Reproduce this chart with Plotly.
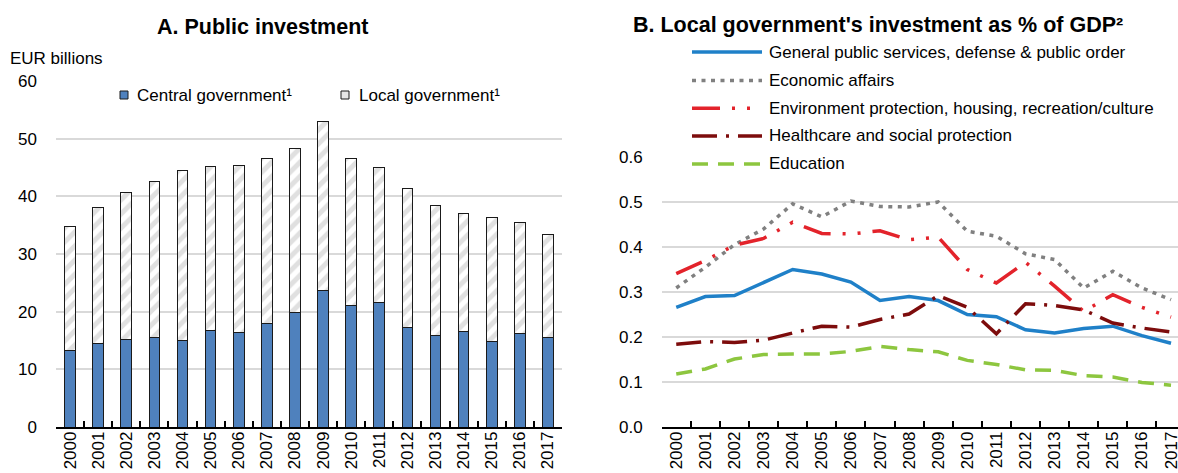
import plotly.graph_objects as go

# ---- data ---------------------------------------------------------------
years = [str(y) for y in range(2000, 2018)]

# Panel A: public investment, EUR billions
central_gov = [13.3, 14.5, 15.2, 15.5, 15.0, 16.7, 16.4, 18.0, 19.8,
               23.6, 21.1, 21.6, 17.3, 15.8, 16.6, 14.8, 16.2, 15.5]
local_gov = [21.5, 23.5, 25.4, 27.1, 29.5, 28.5, 29.0, 28.5, 28.5,
             29.4, 25.4, 23.4, 24.1, 22.6, 20.4, 21.5, 19.2, 17.9]

# Panel B: local government investment by function, % of GDP
general_services = [0.266, 0.290, 0.292, 0.320, 0.350, 0.340, 0.322, 0.281, 0.290,
                    0.281, 0.250, 0.245, 0.216, 0.209, 0.219, 0.224, 0.203, 0.186]
economic_affairs = [0.309, 0.355, 0.405, 0.440, 0.496, 0.467, 0.502, 0.490, 0.489,
                    0.500, 0.435, 0.424, 0.385, 0.372, 0.309, 0.346, 0.309, 0.283]
environment = [0.341, 0.370, 0.404, 0.419, 0.455, 0.430, 0.429, 0.436, 0.416,
               0.422, 0.350, 0.320, 0.366, 0.313, 0.257, 0.294, 0.266, 0.244]
healthcare = [0.184, 0.190, 0.188, 0.193, 0.209, 0.224, 0.222, 0.239, 0.251,
              0.292, 0.266, 0.207, 0.274, 0.270, 0.260, 0.231, 0.220, 0.211]
education = [0.118, 0.129, 0.151, 0.161, 0.162, 0.162, 0.168, 0.179, 0.172,
             0.167, 0.148, 0.139, 0.127, 0.126, 0.114, 0.111, 0.099, 0.093]

bar_names = ["Central government¹", "Local government¹"]
line_names = ["General public services, defense & public order",
              "Economic affairs",
              "Environment protection, housing, recreation/culture",
              "Healthcare and social protection",
              "Education"]

# ---- styling ------------------------------------------------------------
W, H = 1178, 473
FONT = "Liberation Sans, Arial, sans-serif"
GRID = "#d9d9d9"
BLUE_BAR = "#4f81bd"
HATCH = "#c2c2c2"
TXT = 17

line_styles = [
    dict(color="#1f80c8", width=3.5, dash="solid"),
    dict(color="#808080", width=3.5, dash="4px,5.5px"),
    dict(color="#e3232b", width=3.5, dash="28px,12px,3px,12px,3px,12px"),
    dict(color="#7d0c0c", width=3.5, dash="25px,9px,3px,9px"),
    dict(color="#8dc63f", width=3.5, dash="16px,10px"),
]


def px(x):
    return x / W


def py(y):
    return 1 - y / H


fig = go.Figure()

# Panel A: stacked bars
fig.add_trace(go.Bar(
    x=years, y=central_gov, name=bar_names[0], xaxis="x", yaxis="y",
    marker=dict(color=BLUE_BAR, line=dict(color="#1a1a1a", width=1)),
    showlegend=False,
))
fig.add_trace(go.Bar(
    x=years, y=local_gov, name=bar_names[1], xaxis="x", yaxis="y",
    marker=dict(color="white", line=dict(color="#1a1a1a", width=1),
                pattern=dict(shape="/", fgcolor=HATCH, bgcolor="white",
                             size=10, solidity=0.5)),
    showlegend=False,
))

# Panel B: lines
for name, vals, st in zip(line_names,
                          [general_services, economic_affairs, environment,
                           healthcare, education],
                          line_styles):
    fig.add_trace(go.Scatter(
        x=years, y=vals, name=name, mode="lines", xaxis="x2", yaxis="y2",
        line=st, showlegend=False,
    ))

tickfont = dict(family=FONT, size=TXT, color="black")
xcommon = dict(type="category", showline=True, linecolor="black", linewidth=1.5,
               ticks="inside", tickson="boundaries", ticklen=6, tickwidth=1.5,
               tickcolor="black", tickangle=-90, tickfont=tickfont,
               showgrid=False, zeroline=False, automargin=False,
               ticklabelstandoff=-4)
ycommon = dict(showgrid=True, gridcolor=GRID, gridwidth=1.5, zeroline=False,
               showline=False, ticks="", tickfont=tickfont, automargin=False,
               ticklabelstandoff=18)

fig.update_layout(
    width=W, height=H,
    margin=dict(l=0, r=0, t=0, b=0),
    paper_bgcolor="white", plot_bgcolor="white",
    barmode="stack", bargap=0.62,
    font=dict(family=FONT, color="black"),
    xaxis=dict(domain=[px(56), px(562)], range=[-0.5, 17.5], anchor="y", **xcommon),
    yaxis=dict(domain=[py(427), py(81)], range=[0, 60], dtick=10, anchor="x", **ycommon),
    xaxis2=dict(domain=[px(661.7), 1.0], range=[-0.5, 17.24], anchor="y2", **xcommon),
    yaxis2=dict(domain=[py(427), py(157)], range=[0, 0.6], dtick=0.1, tickformat=".1f",
                anchor="x2", **ycommon),
)

annotations = [
    dict(text="<b>A. Public investment</b>", x=px(262), y=py(27),
         font=dict(size=21.5)),
    dict(text="<b>B. Local government's investment as % of GDP²</b>", x=px(878), y=py(25),
         font=dict(size=21.5)),
    dict(text="EUR billions", x=px(8), y=py(58), xanchor="left",
         font=dict(size=TXT)),
    dict(text=bar_names[0], x=px(135), y=py(95), xanchor="left", font=dict(size=TXT)),
    dict(text=bar_names[1], x=px(357), y=py(95), xanchor="left", font=dict(size=TXT)),
]
shapes = [
    dict(type="rect", x0=px(120), x1=px(128), y0=py(99), y1=py(91),
         fillcolor=BLUE_BAR, line=dict(color="#1a1a1a", width=1)),
    dict(type="rect", x0=px(341), x1=px(349), y0=py(99), y1=py(91),
         fillcolor="#e6e6e6", line=dict(color="#1a1a1a", width=1)),
]

legend_rows = [52, 80.5, 108.3, 136, 164]
for name, st, ry in zip(line_names, line_styles, legend_rows):
    shapes.append(dict(type="line", x0=px(692), x1=px(762), y0=py(ry), y1=py(ry),
                       line=dict(color=st["color"], width=st["width"], dash=st["dash"])))
    annotations.append(dict(text=name, x=px(767), y=py(ry), xanchor="left",
                            font=dict(size=TXT)))

for a in annotations:
    a.update(xref="paper", yref="paper", showarrow=False, yanchor="middle")
    a.setdefault("xanchor", "center")
for s in shapes:
    s.update(xref="paper", yref="paper")

fig.update_layout(annotations=annotations, shapes=shapes)

fig.write_html("out.html")
